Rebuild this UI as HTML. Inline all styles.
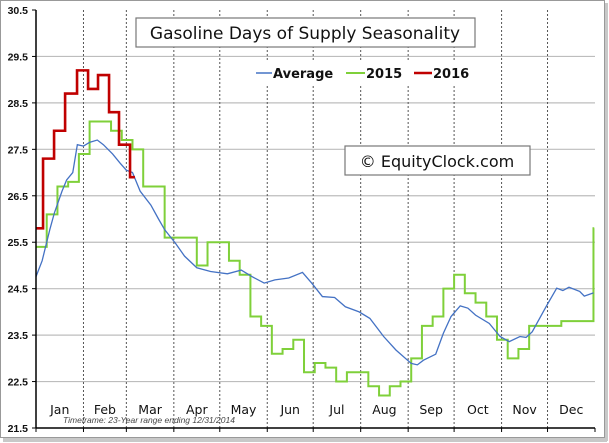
<!DOCTYPE html>
<html><head><meta charset="utf-8"><style>
html,body{margin:0;padding:0;background:#fff;}
svg{display:block;}
</style></head><body>
<svg id="chart" width="609" height="443" viewBox="0 0 609 443" xmlns="http://www.w3.org/2000/svg">
  <rect x="0" y="0" width="609" height="443" fill="#fff"/>
  <rect x="3" y="438" width="604" height="4" fill="#c8c8c8"/>
  <rect x="605" y="3" width="3" height="438" fill="#c8c8c8"/>
  <rect x="0.5" y="0.5" width="604" height="437" fill="#fff" stroke="#999" stroke-width="1"/>
  <g id="grid"></g>
  <g id="series"></g>
  <g id="axes"></g>
  <g>
    <rect x="136" y="18" width="339" height="29" fill="#fff" stroke="#777" stroke-width="1.2"/>
    <text x="305" y="39" text-anchor="middle" font-family="'DejaVu Sans',sans-serif" font-size="17" fill="#111">Gasoline Days of Supply Seasonality</text>
  </g>
  <g>
    <rect x="252" y="62" width="222" height="24" fill="#fff"/>
    <line x1="256" y1="73" x2="272" y2="73" stroke="#4472c4" stroke-width="1.5"/>
    <text x="273" y="78" font-family="'DejaVu Sans',sans-serif" font-weight="bold" font-size="13" fill="#111">Average</text>
    <line x1="346" y1="73" x2="365" y2="73" stroke="#7fd03a" stroke-width="2"/>
    <text x="366" y="78" font-family="'DejaVu Sans',sans-serif" font-weight="bold" font-size="13" fill="#111">2015</text>
    <line x1="414" y1="73" x2="432" y2="73" stroke="#c00000" stroke-width="2.5"/>
    <text x="433" y="78" font-family="'DejaVu Sans',sans-serif" font-weight="bold" font-size="13" fill="#111">2016</text>
  </g>
  <g>
    <rect x="345" y="146" width="185" height="29" fill="#fff" stroke="#777" stroke-width="1.2"/>
    <text x="437" y="167" text-anchor="middle" font-family="'DejaVu Sans',sans-serif" font-size="16" fill="#111">© EquityClock.com</text>
  </g>
  <text x="63" y="423" font-family="'Liberation Sans',sans-serif" font-style="italic" font-size="8.5" fill="#444">Timeframe: 23-Year range ending 12/31/2014</text>
</svg>
<script>
const months = ["Jan","Feb","Mar","Apr","May","Jun","Jul","Aug","Sep","Oct","Nov","Dec"];
const monthStartDays = [0,31,59,90,120,151,181,212,243,273,304,334,365];
const yTicks = [21.5,22.5,23.5,24.5,25.5,26.5,27.5,28.5,29.5,30.5];
const yTickLabels = ["21.5","22.5","23.5","24.5","25.5","26.5","27.5","28.5","29.5","30.5"];
const avgDays = [0,4,9,12,17,20,24,27,31,35,40,44,50,55,59,63,68,75,80,84,91,97,105,114,125,134,141,149,156,165,174,180,187,195,202,211,218,227,235,245,249,253,261,266,271,277,282,287,296,303,309,316,320,324,333,340,344,348,355,358,364];
const avgValues = [24.76,25.1,25.77,26.13,26.6,26.84,27.0,27.6,27.57,27.65,27.7,27.6,27.4,27.2,27.05,27.0,26.6,26.3,26.0,25.77,25.48,25.2,24.95,24.87,24.82,24.9,24.76,24.62,24.69,24.73,24.85,24.62,24.33,24.31,24.11,24.0,23.86,23.47,23.18,22.89,22.86,22.96,23.09,23.54,23.9,24.13,24.08,23.93,23.75,23.47,23.36,23.47,23.45,23.57,24.11,24.51,24.46,24.53,24.44,24.34,24.41];
const y2015Values = [25.4,26.1,26.7,26.8,27.4,28.1,28.1,27.9,27.7,27.5,26.7,26.7,25.6,25.6,25.6,25.0,25.5,25.5,25.1,24.8,23.9,23.7,23.1,23.2,23.4,22.7,22.9,22.8,22.5,22.7,22.7,22.4,22.2,22.4,22.5,23.0,23.7,23.9,24.5,24.8,24.4,24.2,23.9,23.4,23.0,23.2,23.7,23.7,23.7,23.8,23.8,23.8,25.8];
const y2016Days = [0,4.6,11.8,19,26.8,34,40.5,47.7,54.2,61.4];
const y2016Values = [25.8,27.3,27.9,28.7,29.2,28.8,29.1,28.3,27.6,26.9];
const y2016EndDay = 64.6;

const NS = "http://www.w3.org/2000/svg";
const X0 = 36, X1 = 595, Y0 = 428, Y1 = 10;
const yMin = 21.5, yMax = 30.5;
function xScale(d){ return X0 + d * (X1 - X0) / 365; }
function yScale(v){ return Y0 - (v - yMin) * (Y0 - Y1) / (yMax - yMin); }
function mk(tag, attrs, parent){ const e = document.createElementNS(NS, tag); for (const k in attrs) e.setAttribute(k, attrs[k]); parent.appendChild(e); return e; }

const grid = document.getElementById('grid');
const axes = document.getElementById('axes');
const series = document.getElementById('series');

yTicks.forEach((t, i) => {
  const y = yScale(t);
  if (i > 0 && i < yTicks.length - 1) {
    const g = mk('line', {x1: X0, x2: X1, y1: y, y2: y, stroke: '#bdbdbd', 'stroke-width': 1.2}, grid);
    
    
  }
  const tk = mk('line', {x1: X0 - 4, x2: X0, y1: y, y2: y, stroke: '#000', 'stroke-width': 1}, axes);
  
  
  const lb = mk('text', {x: 28, y: y + 4, 'text-anchor': 'end', 'font-family': "'Liberation Sans',sans-serif", 'font-weight': 'bold', 'font-size': 10.5, fill: '#111'}, axes);
  lb.textContent = yTickLabels[i];
  
  
});

monthStartDays.forEach((d, i) => {
  const x = xScale(d);
  if (i > 0 && i < 12) {
    const l = mk('line', {x1: x, x2: x, y1: Y1, y2: Y0, stroke: '#555', 'stroke-width': 1, 'stroke-dasharray': '2,2'}, grid);
    
    
  }
  const tk = mk('line', {x1: x, x2: x, y1: Y0, y2: Y0 + 4, stroke: '#000', 'stroke-width': 1}, axes);
  
  
  if (i < 12) {
    const cx = (xScale(d) + xScale(monthStartDays[i + 1])) / 2;
    const lb = mk('text', {x: cx, y: 414, 'text-anchor': 'middle', 'font-family': "'DejaVu Sans',sans-serif", 'font-size': 12.5, fill: '#111'}, axes);
    lb.textContent = months[i];
    
    
  }
});

const ya = mk('line', {x1: X0, x2: X0, y1: Y1, y2: Y0, stroke: '#000', 'stroke-width': 1.5}, axes);


const xa = mk('line', {x1: X0, x2: X1, y1: Y0, y2: Y0, stroke: '#000', 'stroke-width': 1.5}, axes);



// 2015 weekly step line
let d15 = '';
y2015Values.forEach((v, i) => {
  const x = xScale(i * 7), y = yScale(v);
  if (i === 0) d15 += 'M' + x + ',' + y;
  else d15 += 'H' + x + 'V' + y;
});
d15 += 'H' + xScale(Math.min((y2015Values.length - 1) * 7 + 0.5, 365));
const p15 = mk('path', {d: d15, fill: 'none', stroke: '#7fd03a', 'stroke-width': 2}, series);



// Average line
const pAvg = mk('polyline', {points: avgDays.map((d, i) => xScale(d) + ',' + yScale(avgValues[i])).join(' '), fill: 'none', stroke: '#4472c4', 'stroke-width': 1.3}, series);



// 2016 step line
let d16 = '';
y2016Days.forEach((d, i) => {
  const x = xScale(d), y = yScale(y2016Values[i]);
  if (i === 0) d16 += 'M' + x + ',' + y;
  else d16 += 'H' + x + 'V' + y;
});
d16 += 'H' + xScale(y2016EndDay);
const p16 = mk('path', {d: d16, fill: 'none', stroke: '#c00000', 'stroke-width': 2.6}, series);


</script>
</body></html>
